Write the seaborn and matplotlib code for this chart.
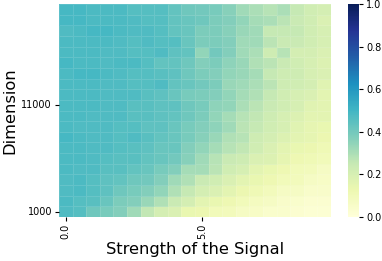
import numpy as np
import pandas as pd
import matplotlib
matplotlib.use("Agg")
import matplotlib.pyplot as plt
import seaborn as sns

signal = [round(0.5 * i, 1) for i in range(20)]
dimension = [1000 * (i + 1) for i in range(20)]

# rows listed from top (dimension 20000) to bottom (1000)
rows_top_down = [
    [0.49, 0.49, 0.48, 0.48, 0.48, 0.46, 0.46, 0.46, 0.43, 0.41, 0.40, 0.39, 0.36, 0.32, 0.30, 0.28, 0.30, 0.25, 0.22, 0.21],
    [0.49, 0.49, 0.48, 0.48, 0.48, 0.47, 0.46, 0.46, 0.43, 0.42, 0.41, 0.38, 0.37, 0.34, 0.31, 0.30, 0.27, 0.24, 0.22, 0.19],
    [0.47, 0.48, 0.49, 0.49, 0.48, 0.47, 0.47, 0.46, 0.43, 0.42, 0.38, 0.38, 0.36, 0.33, 0.32, 0.25, 0.25, 0.25, 0.22, 0.20],
    [0.48, 0.48, 0.48, 0.48, 0.47, 0.46, 0.47, 0.46, 0.46, 0.42, 0.38, 0.38, 0.37, 0.32, 0.32, 0.27, 0.24, 0.24, 0.22, 0.20],
    [0.48, 0.48, 0.48, 0.47, 0.47, 0.46, 0.46, 0.47, 0.44, 0.43, 0.34, 0.40, 0.37, 0.32, 0.30, 0.23, 0.28, 0.21, 0.21, 0.19],
    [0.49, 0.48, 0.48, 0.47, 0.48, 0.48, 0.46, 0.43, 0.43, 0.41, 0.37, 0.38, 0.35, 0.33, 0.29, 0.27, 0.24, 0.22, 0.20, 0.18],
    [0.48, 0.49, 0.49, 0.48, 0.47, 0.46, 0.46, 0.45, 0.44, 0.41, 0.38, 0.37, 0.34, 0.33, 0.31, 0.25, 0.23, 0.23, 0.20, 0.19],
    [0.48, 0.48, 0.48, 0.47, 0.47, 0.46, 0.46, 0.47, 0.43, 0.42, 0.40, 0.38, 0.33, 0.32, 0.30, 0.27, 0.23, 0.22, 0.21, 0.17],
    [0.48, 0.48, 0.48, 0.47, 0.47, 0.47, 0.45, 0.44, 0.42, 0.39, 0.38, 0.37, 0.34, 0.31, 0.29, 0.25, 0.22, 0.20, 0.19, 0.16],
    [0.48, 0.48, 0.48, 0.47, 0.47, 0.45, 0.45, 0.44, 0.44, 0.41, 0.39, 0.35, 0.34, 0.30, 0.27, 0.24, 0.22, 0.20, 0.17, 0.16],
    [0.48, 0.48, 0.47, 0.47, 0.47, 0.45, 0.45, 0.44, 0.43, 0.41, 0.38, 0.34, 0.31, 0.28, 0.26, 0.23, 0.20, 0.18, 0.16, 0.16],
    [0.48, 0.47, 0.47, 0.47, 0.46, 0.46, 0.44, 0.44, 0.42, 0.39, 0.37, 0.35, 0.32, 0.27, 0.25, 0.22, 0.20, 0.17, 0.15, 0.14],
    [0.49, 0.48, 0.47, 0.47, 0.46, 0.47, 0.45, 0.43, 0.42, 0.39, 0.36, 0.33, 0.29, 0.28, 0.23, 0.21, 0.18, 0.16, 0.15, 0.13],
    [0.48, 0.48, 0.47, 0.47, 0.46, 0.45, 0.44, 0.42, 0.42, 0.37, 0.34, 0.31, 0.28, 0.26, 0.22, 0.19, 0.16, 0.14, 0.13, 0.11],
    [0.48, 0.48, 0.47, 0.46, 0.45, 0.45, 0.43, 0.42, 0.40, 0.36, 0.32, 0.28, 0.24, 0.23, 0.19, 0.18, 0.15, 0.12, 0.11, 0.10],
    [0.48, 0.47, 0.47, 0.45, 0.45, 0.43, 0.42, 0.39, 0.37, 0.31, 0.31, 0.27, 0.22, 0.20, 0.16, 0.14, 0.12, 0.10, 0.09, 0.07],
    [0.47, 0.48, 0.46, 0.44, 0.43, 0.41, 0.40, 0.37, 0.32, 0.29, 0.24, 0.22, 0.19, 0.16, 0.14, 0.12, 0.10, 0.09, 0.07, 0.06],
    [0.47, 0.48, 0.46, 0.44, 0.41, 0.39, 0.37, 0.34, 0.29, 0.25, 0.21, 0.19, 0.16, 0.13, 0.11, 0.09, 0.07, 0.07, 0.05, 0.05],
    [0.48, 0.46, 0.45, 0.42, 0.38, 0.37, 0.33, 0.29, 0.24, 0.21, 0.16, 0.14, 0.12, 0.10, 0.08, 0.07, 0.05, 0.04, 0.03, 0.03],
    [0.47, 0.46, 0.41, 0.39, 0.37, 0.32, 0.26, 0.21, 0.19, 0.14, 0.13, 0.10, 0.09, 0.07, 0.06, 0.04, 0.04, 0.03, 0.02, 0.02],
]

values = np.array(rows_top_down[::-1])  # index 0 -> dimension 1000
df = pd.DataFrame(values, index=dimension, columns=[f"{s:.1f}" for s in signal])

fig = plt.figure(figsize=(3.82, 2.61), dpi=100)
ax = fig.add_axes([59 / 382, 1 - 217 / 261, 272 / 382, 213 / 261])
cax = fig.add_axes([348 / 382, 1 - 217 / 261, 11 / 382, 213 / 261])

sns.heatmap(df, cmap="YlGnBu", vmin=0, vmax=1, ax=ax, cbar_ax=cax,
            xticklabels=10, yticklabels=10,
            linewidths=0.4, linecolor=(1, 1, 1, 0.12))
ax.invert_yaxis()

ax.set_xlabel("Strength of the Signal", fontsize=11.7, labelpad=2)
ax.set_ylabel("Dimension", fontsize=11.7, labelpad=3)
ax.tick_params(axis="both", labelsize=7, length=3, width=0.8, pad=2)
plt.setp(ax.get_xticklabels(), rotation=90)
plt.setp(ax.get_yticklabels(), rotation=0)

cax.tick_params(labelsize=7, length=3, width=0.8, pad=2)
cax.set_yticks([0.0, 0.2, 0.4, 0.6, 0.8, 1.0])
cax.set_yticklabels(["0.0", "0.2", "0.4", "0.6", "0.8", "1.0"])

fig.savefig("out.png", dpi=100)
